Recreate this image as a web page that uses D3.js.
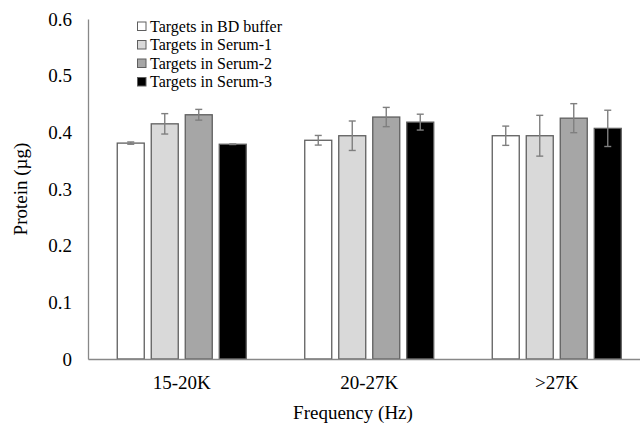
<!DOCTYPE html>
<html>
<head>
<meta charset="utf-8">
<script src="https://cdn.jsdelivr.net/npm/d3@7"></script>
<style>
  body { margin: 0; background: #fff; }
  svg { display: block; font-family: "Liberation Serif", "Times New Roman", serif; }
</style>
</head>
<body>
<div id="chart"></div>
<script>
// Chart data
var categories = ["15-20K", "20-27K", ">27K"];
var seriesNames = ["Targets in BD buffer", "Targets in Serum-1", "Targets in Serum-2", "Targets in Serum-3"];
var seriesColors = ["#ffffff", "#d9d9d9", "#a6a6a6", "#000000"];
// values per series, one per category
var bdBuffer = [0.381, 0.386, 0.394];
var serum1 = [0.415, 0.394, 0.394];
var serum2 = [0.431, 0.427, 0.425];
var serum3 = [0.379, 0.418, 0.407];
// error bar half widths
var bdBufferErr = [0.002, 0.0085, 0.017];
var serum1Err = [0.018, 0.026, 0.036];
var serum2Err = [0.0095, 0.017, 0.0256];
var serum3Err = [0.0005, 0.014, 0.032];
var yTicks = [0, 0.1, 0.2, 0.3, 0.4, 0.5, 0.6];
var yTickLabels = ["0", "0.1", "0.2", "0.3", "0.4", "0.5", "0.6"];

var values = [bdBuffer, serum1, serum2, serum3];
var errors = [bdBufferErr, serum1Err, serum2Err, serum3Err];

var W = 640, H = 426;
// plot area (right edge runs past the picture, as in the original)
var plotLeft = 88, plotRight = 650.5, plotTop = 19, plotBottom = 359;

var svg = d3.select("#chart").append("svg")
    .attr("width", W)
    .attr("height", H);

var x0 = d3.scaleBand()
    .domain(categories)
    .range([plotLeft, plotRight])
    .paddingInner(0.312)
    .paddingOuter(0.156);

var x1 = d3.scaleBand()
    .domain(d3.range(seriesNames.length))
    .range([0, x0.bandwidth()])
    .paddingInner(0.206)
    .paddingOuter(0);

var y = d3.scaleLinear()
    .domain([0, 0.6])
    .range([plotBottom, plotTop]);

// Build rows of the table for drawing
var rows = [];
categories.forEach(function (c, ci) {
  seriesNames.forEach(function (s, si) {
    rows.push({cat: c, s: si, v: values[si][ci], e: errors[si][ci]});
  });
});

function barMid(d) { return x0(d.cat) + x1(d.s) + x1.bandwidth() / 2; }

// Bars
svg.append("g").selectAll("rect")
  .data(rows)
  .enter().append("rect")
    .attr("x", function (d) { return x0(d.cat) + x1(d.s); })
    .attr("y", function (d) { return y(d.v); })
    .attr("width", x1.bandwidth())
    .attr("height", function (d) { return y(0) - y(d.v); })
    .attr("fill", function (d) { return seriesColors[d.s]; })
    .attr("stroke", "#5f5f5f")
    .attr("stroke-width", 1.3);

// Error bars
var eb = svg.append("g").selectAll("g")
  .data(rows)
  .enter().append("g")
    .attr("stroke", "#7f7f7f")
    .attr("stroke-width", 1.4);
eb.append("line")
    .attr("x1", barMid)
    .attr("x2", barMid)
    .attr("y1", function (d) { return y(d.v + d.e); })
    .attr("y2", function (d) { return y(d.v - d.e); });
[1, -1].forEach(function (sign) {
  eb.append("line")
      .attr("x1", function (d) { return barMid(d) - 3.5; })
      .attr("x2", function (d) { return barMid(d) + 3.5; })
      .attr("y1", function (d) { return y(d.v + sign * d.e); })
      .attr("y2", function (d) { return y(d.v + sign * d.e); });
});

// Y axis
var yAxis = svg.append("g")
    .attr("transform", "translate(" + plotLeft + ",0)")
    .call(d3.axisLeft(y).tickValues(yTicks)
      .tickFormat(function (d, i) { return yTickLabels[i]; })
      .tickSize(0).tickPadding(16));
yAxis.select(".domain").attr("stroke", "#888").attr("stroke-width", 1.3);
yAxis.selectAll("text")
    .attr("font-family", "Liberation Serif, Times New Roman, serif")
    .attr("font-size", 19)
    .attr("fill", "#000");

// X axis
var xAxis = svg.append("g")
    .attr("transform", "translate(0," + plotBottom + ")")
    .call(d3.axisBottom(x0).tickSize(0).tickPadding(16.5));
xAxis.select(".domain").attr("stroke", "#888").attr("stroke-width", 1.3);
xAxis.selectAll("text")
    .attr("font-family", "Liberation Serif, Times New Roman, serif")
    .attr("font-size", 19)
    .attr("fill", "#000");

// Axis titles
svg.append("text")
    .attr("transform", "translate(27," + ((plotTop + plotBottom) / 2) + ") rotate(-90)")
    .attr("text-anchor", "middle")
    .attr("font-size", 19)
    .text("Protein (µg)");

svg.append("text")
    .attr("x", 353)
    .attr("y", 419)
    .attr("text-anchor", "middle")
    .attr("font-size", 19)
    .text("Frequency (Hz)");

// Legend
var legend = svg.append("g").selectAll("g")
  .data(seriesNames)
  .enter().append("g")
    .attr("transform", function (d, i) { return "translate(137," + (26 + i * 18.5) + ")"; });
legend.append("rect")
    .attr("x", 0.5)
    .attr("y", -4)
    .attr("width", 8.5)
    .attr("height", 8.5)
    .attr("fill", function (d, i) { return seriesColors[i]; })
    .attr("stroke", "#5f5f5f")
    .attr("stroke-width", 1);
legend.append("text")
    .attr("x", 13)
    .attr("y", 5.5)
    .attr("font-size", 16)
    .text(function (d) { return d; });
</script>
</body>
</html>
